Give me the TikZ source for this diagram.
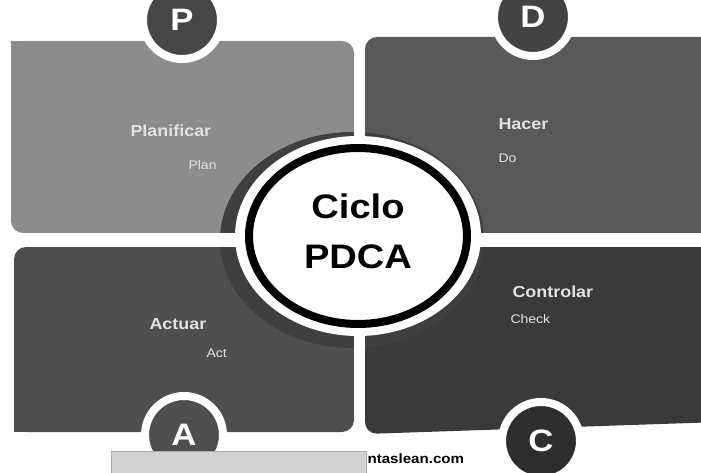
\documentclass[tikz,border=0pt]{standalone}
\usepackage{fontspec}
\setmainfont{Liberation Sans}[FakeStretch=1.12]
\usetikzlibrary{calc}
\definecolor{boxP}{HTML}{8C8C8C}
\definecolor{boxD}{HTML}{595959}
\definecolor{boxA}{HTML}{4F4F4F}
\definecolor{boxC}{HTML}{3A3A3A}
\definecolor{halo}{HTML}{3F3F3F}
\definecolor{txtlight}{HTML}{E2E2E2}
\begin{document}
\begin{tikzpicture}[x=1pt,y=-1pt,
    title/.style={text=txtlight,font=\fontsize{16}{18}\selectfont\bfseries,anchor=west},
    subtitle/.style={text=txtlight,font=\fontsize{12.5}{14}\selectfont,anchor=west},
    letter/.style={circle,draw=white,line width=8pt,minimum size=78pt,inner sep=0pt,text=white,font=\fontsize{31}{34}\selectfont\bfseries}]
              \useasboundingbox[fill=white] (0,0) rectangle (701,473);
              \fill[boxP,rounded corners=12pt] (11,41) rectangle (354,233);
              \fill[boxP] (11,41) rectangle (30,60);
              \fill[boxD,rounded corners=12pt] (365,37) rectangle (720,233);
              \fill[boxA,rounded corners=12pt] (14,247) rectangle (354,432);
              \fill[boxA] (14,413) rectangle (30,432);
              \fill[boxC,rounded corners=12pt] (365,247) -- (720,247) -- (720,422) -- (365,434) -- cycle;
              \fill[halo] (352,240) ellipse [x radius=132,y radius=108];
              \fill[white] (354,20) rectangle (365,460);
              \fill[white] (0,233) rectangle (701,247);
              \fill[white] (358,236) ellipse [x radius=123,y radius=100];
              \draw[black,line width=8pt,fill=white] (358,236) ellipse [x radius=109,y radius=88];
              \node[font=\fontsize{34}{40}\selectfont\bfseries,align=center](ciclo)at(358,231){Ciclo\\[10pt]PDCA};
              \node[letter,fill=gray!55!black](p)at(182,20){P};
              \node[letter,fill=boxD!75!black](d)at(533,17){D};
              \node[letter,fill=boxA](a)at(184,435){A};
              \node[letter,fill=boxC!80!black](c)at(541,441){C};
              \node[title](plan)at(127,131){Planificar};
              \node[subtitle](plansub)at(185,165){Plan};
              \node[title](hacer)at(495,124){Hacer};
              \node[subtitle](hacersub)at(495,158){Do};
              \node[title](actuar)at(146,324){Actuar};
              \node[subtitle](actuarsub)at(203,353){Act};
              \node[title](control)at(509,292){Controlar};
              \node[subtitle](controlsub)at(507,319){Check};
              \draw[gray!65,fill=gray!35] (111,451) rectangle (366,473);
              \node[anchor=west,font=\fontsize{13.5}{15}\selectfont\bfseries](web)at(364,459){ntaslean.com};
            \end{tikzpicture}
\end{document}
